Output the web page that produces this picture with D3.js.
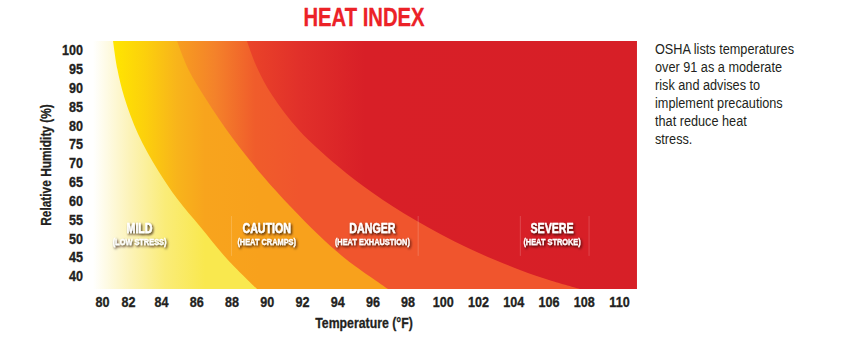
<!DOCTYPE html>
<html><head><meta charset="utf-8">
<script src="https://cdn.jsdelivr.net/npm/d3@7"></script>
<style>
html,body{margin:0;padding:0;background:#fff;}
svg{display:block;}
</style></head><body>
<svg id="chart" width="854" height="337"></svg>
<script>
const title = "HEAT INDEX";
const xLabel = "Temperature (°F)";
const yLabel = "Relative Humidity (%)";
const xTicks = [80,82,84,86,88,90,92,94,96,98,100,102,104,106,108,110];
const yTicks = [40,45,50,55,60,65,70,75,80,85,90,95,100];
// boundary iso-lines: [temperature °F, relative humidity %]
const mildCautionEdge   = [[80.85,102.4],[81.18,94.96],[81.71,87.52],[82.61,77.69],[83.84,67.85],[84.93,60.41],[86.24,52.97],[87.8,44.2],[89.45,36.5]];
const cautionDangerEdge = [[84.91,102.4],[85.57,94.69],[86.55,86.99],[88.06,76.62],[89.83,66.26],[91.32,58.55],[92.95,50.85],[94.56,44.2],[96.89,36.5]];
const dangerSevereEdge  = [[88.88,102.4],[89.46,95.23],[90.30,88.05],[91.85,78.62],[94.03,69.18],[96.03,62.01],[98.43,54.83],[101.43,47.39],[104.38,41.55],[106.2,38.62],[107.79,36.5]];
const zoneNames = ["MILD","CAUTION","DANGER","SEVERE"];
const zoneNotes = ["(LOW STRESS)","(HEAT CRAMPS)","(HEAT EXHAUSTION)","(HEAT STROKE)"];
const zoneLabelTemps = [82.7, 90, 96, 106.2];
const zoneLabelHum = 51.4;
const dividerTemps = [88, 98.6, 104.4, 108.3];
const noteLines = ["OSHA lists temperatures","over 91 as a moderate","risk and advises to","implement precautions","that reduce heat","stress."];

const FONT = "'Liberation Sans',Arial,sans-serif";
const svg = d3.select("#chart");

const x = d3.scaleLinear().domain([80,82,84,110]).range([102,128,161,619]);
const y = d3.scaleLinear().domain([36.5,102.4]).range([289,41]);
const tMin = 79.3, tMax = 111.02, hMin = 36.5, hMax = 102.4;
const X0 = x(tMin), X1 = x(tMax), Y0 = y(hMax), Y1 = y(hMin);

const defs = svg.append("defs");
function grad(id, stops) {
  const g = defs.append("linearGradient").attr("id", id)
    .attr("gradientUnits","userSpaceOnUse")
    .attr("x1", stops[0][0]).attr("x2", stops[stops.length-1][0]).attr("y1",0).attr("y2",0);
  const span = stops[stops.length-1][0] - stops[0][0];
  stops.forEach(s => g.append("stop").attr("offset", (s[0]-stops[0][0])/span).attr("stop-color", s[1]));
}
grad("gA", [[93,"#ffffff"],[130,"#fcf3b8"],[165,"#faec78"],[205,"#f9e84e"]]);
grad("gB", [[113,"#ffe600"],[145,"#fcd00c"],[177,"#f8b41b"],[205,"#f8a41d"],[260,"#f8a11c"]]);
grad("gC", [[177,"#f79e1f"],[215,"#f4822a"],[255,"#f05c2b"],[300,"#f0552d"]]);
grad("gD", [[247,"#ea4429"],[300,"#e1302a"],[365,"#d81f27"],[640,"#d71f27"]]);

const clip = defs.append("clipPath").attr("id","plotClip");
clip.append("rect").attr("x",X0).attr("y",Y0).attr("width",X1-X0).attr("height",Y1-Y0);

const f = defs.append("filter").attr("id","shadow").attr("x","-20%").attr("y","-40%").attr("width","140%").attr("height","180%");
f.append("feDropShadow").attr("dx",1.2).attr("dy",1.5).attr("stdDeviation",1.3)
  .attr("flood-color","#220800").attr("flood-opacity",0.9);

const plot = svg.append("g").attr("clip-path","url(#plotClip)");
plot.append("rect").attr("x",X0).attr("y",Y0).attr("width",X1-X0).attr("height",Y1-Y0).attr("fill","url(#gD)");

const line = d3.line().x(d => x(d[0])).y(d => y(d[1])).curve(d3.curveCatmullRom.alpha(0.5));
function zone(edge, fill) {
  const last = edge[edge.length-1];
  const p = line(edge) + `L${x(last[0])},${y(hMin)+3}L${x(tMin)-2},${y(hMin)+3}L${x(tMin)-2},${y(hMax)}Z`;
  plot.append("path").attr("d", p).attr("fill", fill);
}
zone(dangerSevereEdge, "url(#gC)");
zone(cautionDangerEdge, "url(#gB)");
zone(mildCautionEdge, "url(#gA)");

// faint dividers around labels
plot.selectAll("line.div").data(dividerTemps).join("line")
  .attr("x1", d => x(d)).attr("x2", d => x(d))
  .attr("y1", y(55.9)).attr("y2", y(45.3))
  .attr("stroke","#ffffff").attr("stroke-opacity",0.18).attr("stroke-width",1);

function ctext(parent, px, py, k, txt, size, weight, fill, anchor, sw) {
  const t = parent.append("text")
    .attr("transform", `translate(${px},${py}) scale(${k},1)`)
    .attr("font-family",FONT).attr("font-weight",weight).attr("font-size",size)
    .attr("fill",fill).attr("text-anchor",anchor).text(txt);
  if (sw) t.attr("stroke", fill).attr("stroke-width", sw).attr("stroke-linejoin","round");
  return t;
}

// zone labels
const lab = svg.append("g").attr("filter","url(#shadow)");
zoneNames.forEach((d,i) => ctext(lab, x(zoneLabelTemps[i]), y(zoneLabelHum), 0.76, d, 14, "bold", "#fff", "middle", 0.4));
zoneNotes.forEach((d,i) => ctext(lab, x(zoneLabelTemps[i]), y(zoneLabelHum)+12.5, 0.78, d, 9.5, "bold", "#fff", "middle", 0.25));

// axes
const xAxis = svg.append("g").attr("transform",`translate(0,${Y1+7.3})`)
  .call(d3.axisBottom(x).tickValues(xTicks).tickSize(0).tickPadding(0).tickFormat(d3.format("d")));
const yAxis = svg.append("g").attr("transform",`translate(${X0-10},0)`)
  .call(d3.axisLeft(y).tickValues(yTicks).tickSize(0).tickPadding(0).tickFormat(d3.format("d")));
[xAxis,yAxis].forEach(a => {
  a.select(".domain").remove();
  a.selectAll("text").attr("font-family",FONT).attr("font-weight","bold")
    .attr("font-size",15).attr("fill","#231f20").attr("transform","scale(0.84,1)")
    .attr("stroke","#231f20").attr("stroke-width",0.35);
});

ctext(svg, 364, 26, 0.81, title, 25, "bold", "#ec2227", "middle", 0.3);
ctext(svg, 364, 328, 0.82, xLabel, 15, "bold", "#231f20", "middle", 0.3);
svg.append("text").attr("transform","translate(51,165) rotate(-90) scale(0.82,1)").attr("text-anchor","middle")
  .attr("font-family",FONT).attr("font-weight","bold").attr("font-size",14.5)
  .attr("fill","#231f20").attr("stroke","#231f20").attr("stroke-width",0.3).text(yLabel);

const notes = svg.append("g");
noteLines.forEach((d,i) => ctext(notes, 655, 54+i*18, 0.82, d, 15.5, "normal", "#231f20", "start"));
</script>
</body></html>
